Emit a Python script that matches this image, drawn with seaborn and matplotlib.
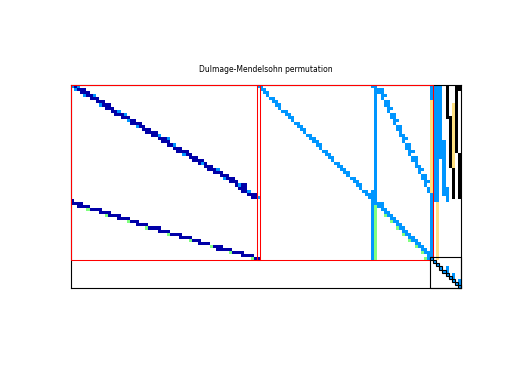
import numpy as np
import pandas as pd
import matplotlib
matplotlib.use("Agg")
import matplotlib.pyplot as plt
import seaborn as sns
from matplotlib.colors import ListedColormap
from matplotlib.patches import Rectangle

# ---------------- data ----------------
N_ROWS, N_COLS = 66, 126
TITLE = "Dulmage-Mendelsohn permutation"

# value classes -> colours (D dark blue, L light blue, G green, Y yellow, K black)
CLASS_CODES = {"D": 1, "L": 2, "G": 3, "Y": 4, "K": 5}
CLASS_COLORS = ["#0000A8", "#0096FF", "#80FF80", "#FFE080", "#000000"]

# block 1, upper band (rows 0-36)
upper_rows = list(range(0, 37))
upper_start = [0, 1, 3, 4, 6, 8, 9, 11, 13, 14, 16, 18, 19, 21, 23, 24, 26, 28, 29, 31,
               33, 34, 36, 38, 39, 41, 43, 44, 46, 48, 49, 51, 53, 54, 55, 57, 58]
upper_cells = ["LDL", "LDDD", "DDD", "LDDL", "DDD", "DDD", "LDDD", "DDD", "DDL", "DDDL",
               "DDD", "LDD", "DDDD", "LDD", "DDD", "DDDD", "DDL", "DDDL", "DDD", "DDL",
               "DDD", "DDDD", "LDD", "DDD", "DDDD", "DLD", "DDD", "DDDL", "DDD", "DDD",
               "LDDD", "DDD", "DLDD", "DDD", "DDL", "DDD", "DDL"]

# block 1, lower band (rows 37-56)
lower_rows = list(range(37, 57))
lower_start = [0, 0, 2, 5, 9, 11, 15, 18, 21, 24, 28, 31, 35, 38, 41, 45, 47, 51, 55, 58]
lower_cells = ["D", "DDDD", "DDDD", "GDDDD", "DDDD", "GDDDD", "DDDD", "GDDD", "DDDD", "GDDDD",
               "DDDD", "GDDDD", "DDDD", "GDDD", "DDDD", "GDDD", "DDDDD", "GDDDD", "DDDD", "GDD"]

# block 2, first diagonal (rows 0-36)
diag1_rows = list(range(0, 37))
diag1_start = [60, 61, 62, 63, 64, 65, 66, 67, 68, 69, 70, 71, 72, 73, 74, 75, 76, 77, 78, 79,
               80, 81, 82, 83, 84, 85, 86, 87, 88, 89, 90, 91, 92, 93, 94, 95, 96]
diag1_cells = ["LL", "LL", "LL", "L", "LL", "LL", "LL", "L", "LL", "LL", "LL", "L", "LL", "LL",
               "LL", "L", "LL", "LL", "LL", "LL", "L", "LL", "LL", "LL", "L", "LL", "LL", "LL",
               "LL", "L", "LL", "LL", "LL", "L", "LL", "LL", "L"]

# block 2, second diagonal (rows 1-35)
diag2_rows = list(range(1, 36))
diag2_start = [99, 99, 100, 100, 101, 101, 102, 102, 103, 103, 104, 104, 105, 105, 106, 106,
               107, 107, 108, 108, 109, 109, 110, 110, 111, 111, 112, 112, 113, 113, 114, 114,
               115, 115, 116]
diag2_cells = ["LL", "LL", "LL", "L", "LL", "LL", "LL", "L", "LL", "LL", "LL", "L", "LL", "LL",
               "L", "LL", "LL", "L", "LL", "LL", "LL", "L", "LL", "LL", "L", "LL", "LL", "L",
               "LL", "LL", "LL", "L", "LL", "LL", "L"]

# block 2, third diagonal (rows 38-56)
diag3_rows = list(range(38, 57))
diag3_start = [98, 99, 100, 101, 101, 103, 103, 105, 105, 107, 107, 109, 109, 111, 111, 113,
               113, 115, 114]
diag3_cells = ["LLL", "LL", "LL", "LL", "GLL", "LL", "GLL", "LL", "GLL", "LL", "GLL", "LL",
               "GLL", "LL", "GLL", "LL", "GLL", "L", "GLL"]

# vertical runs: column, first row, end row (exclusive), class
run_col = [97, 97, 98, 98, 116, 116, 116, 117, 118, 118, 119, 120, 121, 121, 122, 123, 123,
           124, 125, 125]
run_row0 = [0, 34, 0, 39, 0, 5, 35, 0, 0, 38, 0, 18, 0, 33, 10, 6, 27, 0, 0, 22]
run_row1 = [1, 57, 39, 57, 5, 35, 57, 38, 38, 57, 24, 36, 11, 38, 27, 27, 37, 22, 2, 37]
run_cls = ["L", "L", "L", "G", "L", "Y", "L", "L", "L", "Y", "L", "L", "K", "L", "K", "Y", "K",
           "K", "K", "K"]

# bottom-right square block: diagonal entries and extra entries
sq_diag_rows = [56, 57, 58, 59, 60, 61, 62, 63, 64, 65]
sq_diag_cols = [116, 117, 118, 119, 120, 121, 122, 123, 124, 125]
sq_extra_rows = [59, 60, 61, 62, 63, 64]
sq_extra_cols = [121, 121, 123, 123, 125, 125]

# block boxes (row0, col0, nrows, ncols)
red_boxes = [(0, 0, 57, 61), (0, 60, 57, 57)]
black_boxes = [(56, 116, 10, 10)]

# ---------------- build matrix ----------------
mat = np.zeros((N_ROWS, N_COLS), dtype=int)


def put(rows, starts, cells):
    for r, s, cs in zip(rows, starts, cells):
        for k, ch in enumerate(cs):
            mat[r, s + k] = CLASS_CODES[ch]


put(upper_rows, upper_start, upper_cells)
put(lower_rows, lower_start, lower_cells)
put(diag1_rows, diag1_start, diag1_cells)
put(diag2_rows, diag2_start, diag2_cells)
for c, r0, r1, cl in zip(run_col, run_row0, run_row1, run_cls):
    mat[r0:r1, c] = CLASS_CODES[cl]
put(diag3_rows, diag3_start, diag3_cells)
for r, c in zip(sq_diag_rows, sq_diag_cols):
    mat[r, c] = CLASS_CODES["L"]
for r, c in zip(sq_extra_rows, sq_extra_cols):
    mat[r, c] = CLASS_CODES["L"]

df = pd.DataFrame(mat)

# ---------------- plot ----------------
fig = plt.figure(figsize=(5.12, 3.84), dpi=100)
ax = fig.add_axes([71 / 512, 1 - 288 / 384, 390 / 512, 203 / 384])

sns.heatmap(df, mask=(df == 0), cmap=ListedColormap(CLASS_COLORS), vmin=0.5, vmax=5.5,
            cbar=False, xticklabels=False, yticklabels=False, ax=ax, linewidths=0)
ax.set_xlim(0, N_COLS)
ax.set_ylim(N_ROWS, 0)
ax.tick_params(length=0)
ax.set_xlabel("")
ax.set_ylabel("")
for sp in ax.spines.values():
    sp.set_visible(True)
    sp.set_color("black")
    sp.set_linewidth(0.8)

for r0, c0, nr, nc in red_boxes:
    ax.add_patch(Rectangle((c0, r0), nc, nr, fill=False, ec="#FF0000", lw=0.75,
                           zorder=5, clip_on=False))
for r0, c0, nr, nc in black_boxes:
    ax.add_patch(Rectangle((c0, r0), nc, nr, fill=False, ec="black", lw=0.8,
                           zorder=6, clip_on=False))
for r, c in zip(sq_diag_rows, sq_diag_cols):
    ax.add_patch(Rectangle((c, r), 1, 1, fill=False, ec="black", lw=0.8,
                           zorder=6, clip_on=False))

fig.text((71 + 461) / 2 / 512, 1 - 70 / 384, TITLE, ha="center", va="center",
         fontsize=5.5, family="DejaVu Sans")

fig.savefig("out.png", dpi=100)
